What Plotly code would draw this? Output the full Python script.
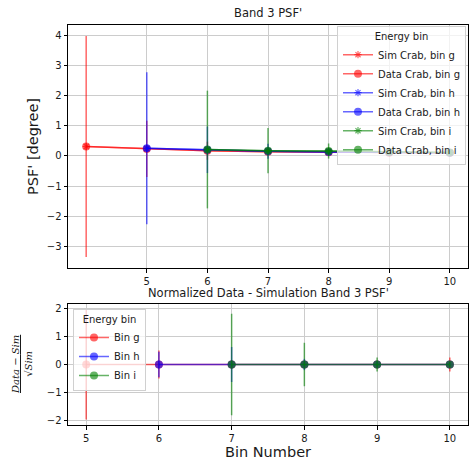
import plotly.graph_objects as go

# ---------------- data ----------------
bins_top_g = [4, 5, 6, 7, 8, 9, 10]
bins_top_h = [5, 6, 7, 8, 9, 10]
bins_top_i = [6, 7, 8, 9, 10]

sim_g = [0.31, 0.23, 0.17, 0.14, 0.12, 0.10, 0.10]
data_g = [0.31, 0.23, 0.17, 0.14, 0.12, 0.10, 0.10]
err_g = [3.66, 0.93, 0.30, 0.10, 0.05, 0.03, 0.02]

sim_h = [0.25, 0.20, 0.15, 0.13, 0.12, 0.10]
data_h = [0.25, 0.20, 0.15, 0.13, 0.12, 0.10]
err_h = [2.52, 0.77, 0.25, 0.08, 0.04, 0.02]

sim_i = [0.21, 0.17, 0.16, 0.13, 0.11]
data_i = [0.21, 0.17, 0.16, 0.13, 0.11]
err_i = [1.95, 0.75, 0.25, 0.08, 0.03]

bins_bot_g = [5, 6, 7, 8, 9, 10]
bins_bot_h = [6, 7, 8, 9, 10]
bins_bot_i = [7, 8, 9, 10]

norm_g = [0, 0, 0, 0, 0, 0]
norm_err_g = [1.95, 0.50, 0.15, 0.08, 0.05, 0.25]
norm_h = [0, 0, 0, 0, 0]
norm_err_h = [0.45, 0.62, 0.20, 0.10, 0.05]
norm_i = [0, 0, 0, 0]
norm_err_i = [1.80, 0.77, 0.25, 0.10]

top_xticks = [5, 6, 7, 8, 9, 10]
top_yticks = [-3, -2, -1, 0, 1, 2, 3, 4]
bot_xticks = [5, 6, 7, 8, 9, 10]
bot_yticks = [-2, -1, 0, 1, 2]

# ---------------- style ----------------
RED = "rgba(255,0,0,0.6)"
BLUE = "rgba(0,0,255,0.6)"
GREEN = "rgba(0,128,0,0.6)"
FONT = "DejaVu Sans"
TXT = "#1a1a1a"
GRID = "#cccccc"

fig = go.Figure()


def add_top(x, sim, data, err, col, name):
    fig.add_trace(go.Scatter(
        x=x, y=sim, mode="lines+markers", name=f"Sim Crab, bin {name}",
        line=dict(color=col, width=1.5),
        marker=dict(symbol="asterisk-open", size=6, color=col,
                    line=dict(width=1.2, color=col)),
        xaxis="x", yaxis="y", legend="legend"))
    fig.add_trace(go.Scatter(
        x=x, y=data, mode="lines+markers", name=f"Data Crab, bin {name}",
        line=dict(color=col, width=1.5),
        marker=dict(symbol="circle", size=8, color=col),
        error_y=dict(type="data", array=err, color=col, thickness=1.5, width=0),
        xaxis="x", yaxis="y", legend="legend"))


add_top(bins_top_g, sim_g, data_g, err_g, RED, "g")
add_top(bins_top_h, sim_h, data_h, err_h, BLUE, "h")
add_top(bins_top_i, sim_i, data_i, err_i, GREEN, "i")


def add_bot(x, v, err, col, name):
    fig.add_trace(go.Scatter(
        x=x, y=v, mode="lines+markers", name=f"Bin {name}",
        line=dict(color=col, width=1.5),
        marker=dict(symbol="circle", size=8, color=col),
        error_y=dict(type="data", array=err, color=col, thickness=1.5, width=0),
        xaxis="x2", yaxis="y2", legend="legend2"))


add_bot(bins_bot_g, norm_g, norm_err_g, RED, "g")
add_bot(bins_bot_h, norm_h, norm_err_h, BLUE, "h")
add_bot(bins_bot_i, norm_i, norm_err_i, GREEN, "i")


def padded(lo, hi, frac=0.05):
    d = hi - lo
    return [lo - frac * d, hi + frac * d]


top_sets = [(data_g, err_g), (data_h, err_h), (data_i, err_i)]
bot_sets = [(norm_g, norm_err_g), (norm_h, norm_err_h), (norm_i, norm_err_i)]
top_lo = min(min(v - e for v, e in zip(a, b)) for a, b in top_sets)
top_hi = max(max(v + e for v, e in zip(a, b)) for a, b in top_sets)
bot_lo = min(min(v - e for v, e in zip(a, b)) for a, b in bot_sets)
bot_hi = max(max(v + e for v, e in zip(a, b)) for a, b in bot_sets)

axis_common = dict(showline=True, mirror=True, linecolor="black", linewidth=1,
                   ticks="outside", ticklen=3.5, tickcolor="black", tickwidth=1,
                   showgrid=True, gridcolor=GRID, gridwidth=1, zeroline=False,
                   tickfont=dict(family=FONT, size=10, color=TXT))

legend_common = dict(bgcolor="rgba(255,255,255,0.75)", bordercolor="#d0d0d0",
                     borderwidth=1, font=dict(family=FONT, size=10, color=TXT),
                     itemwidth=30, tracegroupgap=0)

fig.update_layout(
    width=469, height=464,
    margin=dict(l=68, r=1, t=25, b=39),
    paper_bgcolor="white", plot_bgcolor="white",
    font=dict(family=FONT, color=TXT),
    xaxis=dict(domain=[0, 1], anchor="y",
               range=padded(min(bins_top_g), max(bins_top_g)),
               tickvals=top_xticks, **axis_common),
    yaxis=dict(domain=[0.3925, 1], anchor="x",
               range=padded(top_lo, top_hi), tickvals=top_yticks, **axis_common),
    xaxis2=dict(domain=[0, 1], anchor="y2",
                range=padded(min(bins_bot_g), max(bins_bot_g)),
                tickvals=bot_xticks, **axis_common),
    yaxis2=dict(domain=[0, 0.3025], anchor="x2",
                range=padded(bot_lo, bot_hi), tickvals=bot_yticks, **axis_common),
    legend=dict(x=0.995, y=0.997, xanchor="right", yanchor="top",
                title=dict(text="Energy bin", side="top center",
                           font=dict(family=FONT, size=10, color=TXT)),
                **legend_common),
    legend2=dict(x=0.0125, y=0.29, xanchor="left", yanchor="top",
                 title=dict(text="Energy bin", side="top center",
                            font=dict(family=FONT, size=10, color=TXT)),
                 **legend_common),
    showlegend=True,
)

annotations = [
    dict(text="Band 3 PSF'", x=0.5, y=1.03, xref="paper", yref="paper",
         xanchor="center", yanchor="middle", showarrow=False,
         font=dict(family=FONT, size=11.5, color=TXT)),
    dict(text="Normalized Data - Simulation Band 3 PSF'", x=0.5, y=0.33,
         xref="paper", yref="paper", xanchor="center", yanchor="middle",
         showarrow=False, font=dict(family=FONT, size=11.5, color=TXT)),
    dict(text="Bin Number", x=0.5, y=-0.0675, xref="paper", yref="paper",
         xanchor="center", yanchor="middle", showarrow=False,
         font=dict(family=FONT, size=14.5, color=TXT)),
    dict(text="PSF' [degree]", x=-0.0875, y=0.695, xref="paper", yref="paper",
         xanchor="center", yanchor="middle", showarrow=False, textangle=-90,
         font=dict(family=FONT, size=14.5, color=TXT)),
    dict(text="<u><i>Data</i> − <i>Sim</i></u><br>√<i>Sim</i>", x=-0.115, y=0.15,
         xref="paper", yref="paper", xanchor="center", yanchor="middle",
         showarrow=False, textangle=-90,
         font=dict(family="DejaVu Serif", size=10, color=TXT)),
]
fig.update_layout(annotations=annotations)

fig.write_html("out.html")
